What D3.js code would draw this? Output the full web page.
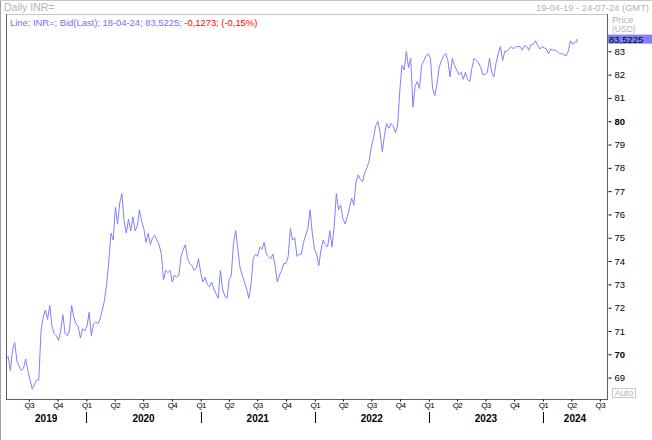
<!DOCTYPE html>
<html><head><meta charset="utf-8">
<script src="https://cdn.jsdelivr.net/npm/d3@7"></script>
<style>body{margin:0;background:#fff}svg{display:block}</style>
</head><body><svg id="c" width="652" height="440"></svg>
<script>
// ---- data (weekly closes, first week starts 2019-04-19) ----
const startDate = "2019-04-19";
const weekly2019 = [69.8,69.9,69.3,70.2,70.5,69.7,69.5,69.3,69.4,69.8,69.3,68.9,68.5,68.7,68.9,68.9,71.0,71.6,71.9,71.5,72.1,71.2,70.9,70.8,70.6,71.0,71.7,70.9,70.8,71.0,72.1,71.6,71.3,71.2,70.7,71.1,71.0];
const weekly2020 = [71.2,71.8,70.8,71.3,71.4,71.3,71.5,71.9,72.3,73.0,74.0,75.2,74.9,76.3,75.6,76.5,76.9,75.7,75.2,75.8,75.3,75.9,75.3,75.5,76.2,75.7,75.4,74.8,75.2,74.7,75.0,75.1,74.9,74.7,74.3,73.2,73.6,73.5,73.6,73.1,73.4,73.3,73.4,74.2,74.5,74.7,74.1,73.9,73.8,73.6,73.7,74.1];
const weekly2021 = [73.5,73.1,73.3,73.0,72.9,73.1,72.8,72.6,72.4,73.6,72.8,72.5,72.4,73.2,73.4,74.8,75.3,74.5,73.7,73.4,73.1,72.8,72.4,73.0,74.1,74.3,74.2,74.6,74.5,74.8,74.3,74.2,74.1,74.3,73.8,73.1,73.4,73.6,73.9,73.9,74.2,75.4,74.9,75.0,74.2,74.3,74.3,74.8,75.1,75.4,76.2,75.2,74.5];
const weekly2022 = [74.3,73.8,74.5,74.9,74.7,74.6,75.3,74.6,75.5,76.9,76.2,76.4,75.8,75.6,75.9,76.3,76.7,76.4,77.4,77.7,77.5,77.4,77.8,78.0,78.3,78.9,79.3,79.8,80.0,79.5,78.7,79.4,79.9,79.7,79.9,79.8,79.5,79.8,81.3,82.4,82.2,83.0,82.3,82.7,80.6,81.5,81.7,81.4,82.4,82.6,82.8,82.9];
const weekly2023 = [82.7,81.4,81.1,81.6,82.3,82.6,82.8,82.9,82.6,81.9,82.7,82.4,82.2,82.0,82.1,81.8,82.1,81.8,81.7,82.3,82.7,82.6,82.5,82.3,82.0,82.0,82.1,82.7,82.1,81.9,82.5,82.9,83.2,82.6,83.0,83.0,83.1,83.2,83.1,83.2,83.2,83.2,83.05,83.25,83.2,83.05,83.3,83.3,83.45,83.25,83.1,83.2];
const weekly2024 = [83.15,83.1,82.9,83.1,83.05,83.05,83.0,82.9,82.9,82.85,82.8,83.0,83.45,83.3,83.4,83.4];
const lastDate = "2024-04-18";
const lastValue = 83.5225;

const domainStart = "2019-04-19", domainEnd = "2024-07-24";
const yTicks = [69,70,71,72,73,74,75,76,77,78,79,80,81,82,83];
const boldTicks = [70,80];
const quarterLabels = ["Q1","Q2","Q3","Q4"];
const years = [2019,2020,2021,2022,2023,2024];
const headerText = "Daily INR=";
const rangeText = "19-04-19 - 24-07-24 (GMT)";
const legendMain = "Line; INR=; Bid(Last); 18-04-24; 83,5225; ";
const legendChange = "-0,1273; (-0,15%)";
const lastLabel = "83,5225";

// ---- build ----
const parse = d3.utcParse("%Y-%m-%d");
const values = [].concat(weekly2019, weekly2020, weekly2021, weekly2022, weekly2023, weekly2024);
const t0 = parse(startDate);
const data = values.map((v, i) => ({date: d3.utcDay.offset(t0, 7 * i), value: v}));
data.push({date: parse(lastDate), value: lastValue});

const L = 6, R = 607, T = 14, B = 399;
const svg = d3.select("#c");
const font = "'Liberation Sans', Arial, sans-serif";

const x = d3.scaleUtc().domain([parse(domainStart), parse(domainEnd)]).range([L, R]);
const y = d3.scaleLinear().domain([70, 83]).range([354.3, 51.3]);

// outer border
svg.append("line").attr("x1",0.5).attr("x2",0.5).attr("y1",0).attr("y2",440).attr("stroke","#a0a0a0");
svg.append("line").attr("x1",0).attr("x2",652).attr("y1",0.5).attr("y2",0.5).attr("stroke","#c8c8c8");

// header
svg.append("text").attr("x",4).attr("y",11).attr("font-family",font).attr("font-size",10.5)
  .attr("fill","#b4b4b4").text(headerText);
svg.append("text").attr("x",649).attr("y",11).attr("text-anchor","end").attr("font-family",font)
  .attr("font-size",9.4).attr("fill","#b4b4b4").text(rangeText);

// plot frame
svg.append("line").attr("x1",L).attr("x2",R).attr("y1",T+0.5).attr("y2",T+0.5).attr("stroke","#c8c8c8");
svg.append("line").attr("x1",L+0.5).attr("x2",L+0.5).attr("y1",T).attr("y2",B).attr("stroke","#606060");
svg.append("line").attr("x1",L).attr("x2",R+1).attr("y1",B+0.5).attr("y2",B+0.5).attr("stroke","#606060");
svg.append("line").attr("x1",R+0.5).attr("x2",R+0.5).attr("y1",T).attr("y2",B+1).attr("stroke","#606060");

// clip + line
svg.append("clipPath").attr("id","clip").append("rect").attr("x",L+1).attr("y",T+1).attr("width",R-L-1).attr("height",B-T-1);
svg.append("path").datum(data).attr("clip-path","url(#clip)")
  .attr("fill","none").attr("stroke","#8080ff").attr("stroke-width",1)
  .attr("d", d3.line().x(d => x(d.date)).y(d => y(d.value)));

// legend text
const lg = svg.append("text").attr("x",10).attr("y",26).attr("font-family",font).attr("font-size",9.4);
lg.append("tspan").attr("fill","#7070ff").text(legendMain);
lg.append("tspan").attr("fill","#ff0000").text(legendChange);

// right axis
const yAxis = d3.axisRight(y).tickValues(yTicks).tickSize(3).tickPadding(3).tickFormat(d3.format("d"));
const gy = svg.append("g").attr("transform",`translate(${R+1.5},0)`).call(yAxis);
gy.select(".domain").remove();
gy.selectAll(".tick line").attr("stroke","#000");
gy.selectAll(".tick text").attr("font-family",font).attr("font-size",9.5).attr("fill","#000")
  .attr("font-weight", d => boldTicks.includes(d) ? "bold" : "normal");

// price header + last value label
svg.append("text").attr("x",612).attr("y",23).attr("font-family",font).attr("font-size",9.5).attr("fill","#b4b4b4").text("Price");
svg.append("text").attr("x",612).attr("y",32).attr("font-family",font).attr("font-size",8.5).attr("fill","#b4b4b4").text("(USD)");
svg.append("rect").attr("x",608).attr("y",y(lastValue)-4.5).attr("width",44).attr("height",9).attr("fill","#8080ff");
svg.append("text").attr("x",609).attr("y",y(lastValue)+3.5).attr("font-family",font).attr("font-size",9.5)
  .attr("fill","#000").text(lastLabel);

// bottom axis: quarters
const quarters = d3.utcMonth.every(3).range(parse(domainStart), parse(domainEnd));
const xAxis = d3.axisBottom(x).tickValues(quarters).tickSize(2).tickPadding(1)
  .tickFormat(d => quarterLabels[Math.floor(d.getUTCMonth() / 3)]);
const gx = svg.append("g").attr("transform",`translate(0,${B + 0.5})`).call(xAxis);
gx.select(".domain").remove();
gx.selectAll(".tick line").attr("stroke","#000");
gx.selectAll(".tick text").attr("font-family",font).attr("font-size",8).attr("fill","#000")
  .attr("letter-spacing","-0.6");

// years
const yr = svg.append("g");
years.forEach(yy => {
  const a = d3.max([parse(`${yy}-01-01`), parse(domainStart)]);
  const b = d3.min([parse(`${yy + 1}-01-01`), parse(domainEnd)]);
  yr.append("text").attr("x",(x(a) + x(b)) / 2).attr("y",422).attr("text-anchor","middle")
    .attr("font-family",font).attr("font-size",10).attr("font-weight","bold").attr("fill","#000").text(yy);
  if (yy > 2019) {
    const xs = Math.round(x(parse(`${yy}-01-01`))) + 0.5;
    yr.append("line").attr("x1",xs).attr("x2",xs).attr("y1",412).attr("y2",423).attr("stroke","#000");
  }
});

// Auto box
svg.append("rect").attr("x",612.5).attr("y",388.5).attr("width",23).attr("height",9).attr("fill","#fff").attr("stroke","#c8c8c8");
svg.append("text").attr("x",624).attr("y",396).attr("text-anchor","middle").attr("font-family",font)
  .attr("font-size",9).attr("fill","#b4b4b4").text("Auto");
</script></body></html>
